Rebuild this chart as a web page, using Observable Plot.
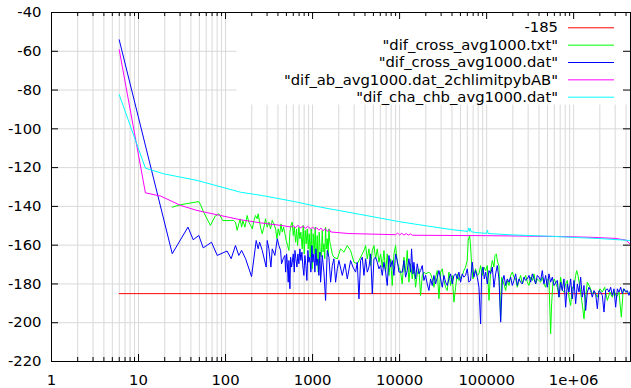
<!DOCTYPE html>
<html><head><meta charset="utf-8">
<script src="https://cdn.jsdelivr.net/npm/d3@7"></script>
<script src="https://cdn.jsdelivr.net/npm/@observablehq/plot@0.6"></script>
<style>html,body{margin:0;padding:0;background:#fff;}</style>
</head><body><div id="chart"></div>
<script>
const xMajorTicks = [1, 10, 100, 1000, 10000, 100000, 1000000];
const xTickLabels = ["1", "10", "100", "1000", "10000", "100000", "1e+06"];
const yTicks = [-220, -200, -180, -160, -140, -120, -100, -80, -60, -40];
const seriesNames = ["-185", "\"dif_cross_avg1000.txt\"", "\"dif_cross_avg1000.dat\"", "\"dif_ab_avg1000.dat_2chlimitpybAB\"", "\"dif_cha_chb_avg1000.dat\""];
const seriesColors = ["#ff0000", "#00ff00", "#0000ff", "#ff00ff", "#00ffff"];

const refLine = [[6, -185], [4500000, -185]];

const crossTxt = [
[24.4,-140.4],[30,-139.2],[49.3,-137.5],[52,-139.5],[56,-143],[67,-149.8],[76,-145],[84,-143.8],[93,-147.3],[114,-147.3],[124,-147.3],
[130,-148.1],[136,-152.4],[142,-149.0],[147,-146.4],[153,-150.7],[158,-147.3],[167,-150.7],[177,-144.7],[185,-148.1],[194,-149.8],[203,-151.6],[212,-147.3],[221,-144.7],[231,-146.4],[237,-143.8],[246,-148.1],[255,-151.6],[264,-154.1],[276,-150.7],[288,-146.4],[301,-150.7],[315,-148.1],[329,-151.6],[344,-147.3],[359,-149.0],[376,-151.6],[389,-156.7],[403,-151.6],[418,-155.0],[433,-149.0],[448,-153.3],[464,-150.7],[481,-154.1],[498,-157.6],[516,-160.2],[535,-162.7],[549,-153.3],[564,-149.8],[584,-148.1],[600,-155.0],[616,-150.7],[638,-158.5],[655,-151.6],[672,-160.2],[696,-150.7],[715,-156.7],[734,-153.3],[760,-161.9],[781,-149.8],[802,-164.5],[823,-152.4],[845,-159.3],[868,-151.6],[891,-161.9],[915,-154.1],[940,-166.2],[965,-151.6],[990,-172.2],[1017,-154.1],[1044,-164.5],[1072,-150.7],[1101,-168.8],[1130,-155.0],[1161,-173.9],[1192,-153.3],[1224,-163.6],
[1260,-166.0],[1292,-152.4],[1320,-163.5],[1350,-159.3],[1380,-167.0],[1411,-150.7],[1440,-162.0],[1475,-156.7],[1510,-165.5],[1541,-151.6],[1575,-158.0],[1611,-160.2],[1683,-164.5],[1759,-166.2],[1922,-167.1],[2099,-161.9],[2293,-163.6],[2504,-160.2],[2735,-162.8],[2988,-168.8],[3263,-169.6],[3564,-166.2],[3893,-162.8],[4069,-160.2],[4252,-167.1],[4444,-161.9],[4644,-170.5],[4854,-162.8],[5072,-160.2],[5300,-167.1],[5539,-161.9],[5789,-168.8],[6050,-164.5],[6322,-171.4],[6607,-162.8],[6905,-173.9],[7216,-164.5],[7541,-175.7],[7881,-167.1],[8236,-180.8],[8607,-164.5],[8995,-160.2],[9400,-168.8],[9824,-171.4],[10260,-173.9],
[10724,-180.0],[11209,-166.2],[11713,-173.9],[12242,-162.7],[12794,-179.1],[13371,-169.6],[13974,-177.4],[14604,-171.3],[15263,-181.7],[15952,-174.8],[16672,-172.2],[17424,-186.0],[18210,-175.6],[19032,-173.9],[19890,-174.8],[21726,-173.9],[22706,-174.8],[23730,-177.4],[24801,-181.7],[25920,-176.5],[27089,-173.1],[28311,-187.7],[29589,-173.9],[30923,-172.2],[32318,-178.2],[33776,-181.7],[35299,-183.4],[36889,-173.9],[38552,-180.8],[40290,-175.6],[42107,-189.4],[43995,-181.7],[45980,-174.8],[48051,-178.2],[50221,-176.5],[52464,-175.6],[54834,-173.1],[57307,-171.3],[59881,-167.9],[61484,-157.6],[63696,-155.0],[65398,-160.2],[67139,-169.6],[69554,-177.4],[72049,-174.8],[74584,-172.2],
[78120,-175.6],[81640,-174.8],[85330,-170.5],[89170,-175.6],[93200,-171.3],[97390,-173.1],[101800,-170.5],[106400,-188.5],[111200,-173.1],[116200,-167.9],[121400,-171.3],[124700,-165.3],[129100,-164.5],[133600,-168.8],[138600,-170.5],[144900,-198.8],[148800,-176.5],[158200,-180.0],[165400,-183.4],[172800,-178.2],[180600,-180.8],[188800,-175.6],[197300,-173.9],[206200,-176.5],[215500,-177.4],[225200,-181.7],[235400,-178.2],[246000,-175.6],[257100,-180.0],[268700,-177.4],[280800,-175.6],[293500,-179.1],[306700,-180.8],[320500,-176.5],[335000,-178.2],[350100,-174.8],[365800,-180.0],[382300,-177.4],[417600,-179.1],[436200,-176.5],[455900,-180.0],[476500,-181.7],[497900,-177.4],[520300,-178.2],[543800,-205.7],[558200,-190.2],[578300,-179.1],[599100,-177.4],
[648800,-181.7],[678100,-186.8],[708700,-176.5],[740600,-183.4],[774000,-184.2],[808900,-180.0],[845400,-178.2],[883600,-186.8],[923400,-191.1],[965100,-181.7],[1008700,-181.7],[1054200,-175.6],[1082800,-173.1],[1121600,-175.6],[1181800,-181.7],[1224200,-186.8],[1268100,-192.0],[1314400,-198.0],[1373700,-186.8],[1435700,-179.1],[1540000,-181.7],[1638900,-185.1],[1744100,-184.2],[1870900,-186.8],[2006800,-182.5],[2135600,-184.2],[2273000,-181.7],[2437600,-188.5],[2613900,-184.2],[2781800,-186.8],[2907100,-183.4],[3118300,-186.8],[3317500,-184.2],[3529900,-197.1],[3719800,-182.5],[3956600,-183.4],[4208100,-185.1],[4500000,-184.2]
];

const crossDat = [
[6,-54.1],[24.4,-164.4],[37,-150.7],[42.5,-157.2],[49.3,-155],[55.4,-161.4],[69,-158.5],[80.3,-165.3],[104,-163],[116,-167],
[130,-160.2],[142,-165.3],[153,-162.7],[170,-167.0],[199,-176.2],[225,-157.6],[237,-161.9],[246,-158.4],[264,-162.7],[293,-171.3],[301,-157.6],[315,-161.9],[332,-171.3],[344,-161.9],[369,-165.3],[393,-156.7],[410,-160.2],[429,-162.7],[440,-169.6],[460,-167.0],[481,-165.3],[490,-173.9],[503,-164.5],[512,-168.8],[525,-179.1],[535,-167.9],[549,-182.5],[559,-166.2],[574,-171.3],[584,-168.8],[600,-164.5],[616,-173.9],[627,-162.7],[643,-167.0],[661,-171.3],[678,-164.5],[696,-169.6],[715,-161.9],[734,-167.9],[754,-163.6],[774,-171.3],[795,-175.6],[816,-165.3],[838,-170.5],[860,-178.2],[883,-162.7],[907,-168.8],[931,-166.2],[956,-173.9],[982,-160.2],[1008,-168.8],[1035,-164.5],[1063,-173.9],[1091,-161.9],[1120,-170.5],[1150,-167.0],[1181,-175.6],[1213,-163.6],
[1236,-179.1],[1292,-165.3],[1350,-173.9],[1411,-188.5],[1475,-162.7],[1541,-166.2],[1611,-179.1],[1683,-170.5],[1759,-167.0],[1839,-179.1],[1922,-172.2],[2008,-167.9],[2194,-175.6],[2356,-169.6],[2504,-177.4],[2735,-167.9],[2910,-171.3],[3122,-173.9],[3263,-168.8],[3411,-187.7],[3564,-167.9],[3725,-166.2],[3893,-175.6],[4069,-167.0],[4252,-173.9],[4444,-171.3],[4644,-164.5],[4854,-185.1],[5072,-167.0],[5300,-166.2],[5539,-168.8],[5789,-172.2],[6050,-170.5],[6322,-175.6],[6607,-168.8],[6905,-173.9],[7216,-180.8],[7541,-165.3],[7881,-171.3],[8236,-167.9],[8607,-175.6],[8995,-164.5],[9400,-167.9],[9824,-173.9],
[10724,-173.9],[11209,-167.9],[11713,-176.5],[12242,-173.1],[12794,-167.0],[13371,-173.9],[13727,-161.9],[14225,-174.8],[14604,-168.8],[15263,-177.4],[15952,-169.6],[16672,-174.8],[17424,-173.1],[18210,-170.5],[19032,-178.2],[19890,-175.6],[20790,-180.0],[21726,-183.4],[22706,-177.4],[23730,-180.8],[24801,-175.6],[25920,-180.0],[27089,-176.5],[28311,-173.1],[29589,-177.4],[30923,-181.7],[32318,-175.6],[33776,-179.1],[35299,-180.8],[36889,-177.4],[38552,-174.8],[40290,-180.0],[42107,-175.6],[43995,-174.8],[45980,-177.4],[48051,-173.9],[50221,-179.1],[52464,-174.8],[54834,-176.5],[57307,-175.6],[59881,-172.2],[62580,-179.1],[65398,-178.2],[68340,-168.8],[71410,-176.5],[74584,-173.1],
[78120,-176.5],[81640,-181.7],[85330,-200.6],[87610,-174.8],[90750,-171.3],[94020,-177.4],[97390,-173.9],[101800,-180.0],[106400,-173.1],[111200,-174.8],[116200,-171.3],[121400,-181.7],[126900,-174.8],[132600,-170.5],[138600,-177.4],[144900,-199.7],[151400,-179.1],[158200,-175.6],[165400,-180.8],[172800,-177.4],[180600,-179.1],[188800,-176.5],[197300,-180.8],[206200,-178.2],[215500,-174.8],[225200,-180.8],[235400,-177.4],[246000,-179.1],[257100,-180.0],[268700,-176.5],[280800,-178.2],[293500,-177.4],[306700,-175.6],[320500,-179.1],[335000,-174.8],[350100,-177.4],[365800,-180.0],[382300,-175.6],[399500,-176.5],[417600,-178.2],[436200,-173.1],[455900,-180.0],[476500,-175.6],[497900,-181.7],[520300,-174.8],[543800,-179.1],[568300,-176.5],[593900,-180.8],
[648800,-178.2],[678100,-186.8],[708700,-179.1],[740600,-183.4],[774000,-177.4],[808900,-192.0],[845400,-180.0],[883600,-184.2],[923400,-177.4],[965100,-187.7],[1008700,-178.2],[1054200,-190.2],[1101700,-180.0],[1151400,-184.2],[1203400,-176.5],[1257700,-186.8],[1314400,-180.8],[1373700,-193.7],[1435700,-184.2],[1500500,-181.7],[1568200,-183.4],[1638900,-186.8],[1712900,-183.4],[1790200,-185.1],[1870900,-192.8],[1955300,-183.4],[2043500,-184.2],[2135600,-185.9],[2231900,-194.5],[2332500,-183.4],[2437600,-182.5],[2547500,-184.2],[2662600,-181.7],[2781800,-185.9],[2907100,-182.5],[3038600,-192.0],[3175900,-182.5],[3317500,-184.2],[3467500,-181.7],[3623000,-185.1],[3786000,-182.5],[3956600,-184.2],[4134800,-183.4],[4321400,-185.9],[4500000,-183.4]
];

const abLimit = [
[6,-59.2],[12,-133],[18,-134.7],[30.4,-139.5],[47,-142.1],[87.6,-144.7],[149,-146.9],[253,-148.5],[430,-149.8],[560,-150.6],[600,-150.0],[640,-150.9],[680,-149.7],[720,-151.1],[780,-150.2],[830,-151.3],[880,-150.3],[950,-151.6],[1000,-150.6],[1060,-151.9],[1120,-151.0],[1180,-152.3],[1250,-151.2],[1320,-152.6],[1400,-151.5],[1480,-152.9],[1560,-151.9],[1620,-153.2],[2600,-154.0],[9000,-154.6],[9500,-153.8],[10000,-154.7],[10600,-153.9],[11200,-154.8],[11900,-154.0],[12600,-154.8],[13300,-154.2],[14100,-154.9],[15000,-154.9],[100000,-155.1],[600000,-155.5],[1500000,-155.9],[3000000,-156.5],[4000000,-157.4],[4500000,-159.6]
];

const chaChb = [
[6,-82.4],[12,-120.3],[19.5,-123.2],[47,-126.6],[149,-132.7],[264,-134.4],[600,-137.4],[1234,-140.4],[2000,-142.1],[4000,-144.6],[10000,-147.9],[20000,-150.0],[40000,-152.0],[61000,-152.9],[62500,-151.1],[63500,-152.8],[64800,-151.3],[66000,-153.0],[75000,-153.5],[100000,-153.9],[102000,-152.2],[104500,-154.0],[200000,-154.7],[600000,-155.5],[1000000,-156.0],[2000000,-156.6],[4500000,-157.6]
];

// minor tick positions 2..9 per decade
const xMinorTicks = [];
for (let k = 0; k <= 6; k++) for (let m = 2; m <= 9; m++) { const v = m * Math.pow(10, k); if (v < 4500000) xMinorTicks.push(v); }
const xGrid = xMajorTicks.concat(xMinorTicks);

const W = 631, H = 388, mL = 51, mR = 1, mT = 12, mB = 27;
const fw = W - mL - mR, fh = H - mT - mB;
const font = "DejaVu Sans";
const fs = 14.8;
const gridColor = "#d9d9d9";
const lineOpts = (c) => ({x: d => d[0], y: d => d[1], stroke: c, strokeWidth: 1, clip: true});

const plot = Plot.plot({
  width: W, height: H,
  marginLeft: mL, marginRight: mR, marginTop: mT, marginBottom: mB,
  style: {fontFamily: font, fontSize: fs + "px", background: "white", color: "black", overflow: "visible"},
  x: {type: "log", domain: [1, 4500000]},
  y: {domain: [-220, -40]},
  marks: [
    Plot.ruleX(xGrid, {stroke: gridColor, strokeWidth: 1}),
    Plot.ruleY(yTicks, {stroke: gridColor, strokeWidth: 1}),
    Plot.frame({fill: "white", stroke: null, insetLeft: 185, insetBottom: 257}),
    Plot.line(refLine, lineOpts(seriesColors[0])),
    Plot.line(crossTxt, lineOpts(seriesColors[1])),
    Plot.line(crossDat, lineOpts(seriesColors[2])),
    Plot.line(abLimit, lineOpts(seriesColors[3])),
    Plot.line(chaChb, lineOpts(seriesColors[4])),
    Plot.tickX(xMajorTicks, {x: d => d, stroke: "black", insetTop: fh - 7}),
    Plot.tickX(xMinorTicks, {x: d => d, stroke: "black", insetTop: fh - 4}),
    Plot.tickX(xMajorTicks, {x: d => d, stroke: "black", insetBottom: fh - 7}),
    Plot.tickX(xMinorTicks, {x: d => d, stroke: "black", insetBottom: fh - 4}),
    Plot.tickY(yTicks, {y: d => d, stroke: "black", insetRight: fw - 7}),
    Plot.tickY(yTicks, {y: d => d, stroke: "black", insetLeft: fw - 7}),
    Plot.frame({stroke: "black", strokeWidth: 1}),
    Plot.axisX(xMajorTicks, {tickSize: 0, tickPadding: 12.5, label: null, fontSize: fs, tickFormat: d => xTickLabels[xMajorTicks.indexOf(d)]}),
    Plot.axisY(yTicks, {tickSize: 0, tickPadding: 10, label: null, fontSize: fs, tickFormat: d => String(d)})
  ]
});

// key (legend) inside the plot area, gnuplot style
const svg = d3.select(plot);
const key = svg.append("g").attr("font-family", font).attr("font-size", fs + "px").attr("fill", "black");
seriesNames.forEach((name, i) => {
  const ky = 27.3 + i * 17.35;
  key.append("text").attr("x", 558).attr("y", ky).attr("dy", "0.35em").attr("text-anchor", "end").text(name);
  key.append("line").attr("x1", 568).attr("x2", 614).attr("y1", ky + 0.5).attr("y2", ky + 0.5)
    .attr("stroke", seriesColors[i]).attr("stroke-width", 1);
});

document.getElementById("chart").appendChild(plot);
</script>
</body></html>
